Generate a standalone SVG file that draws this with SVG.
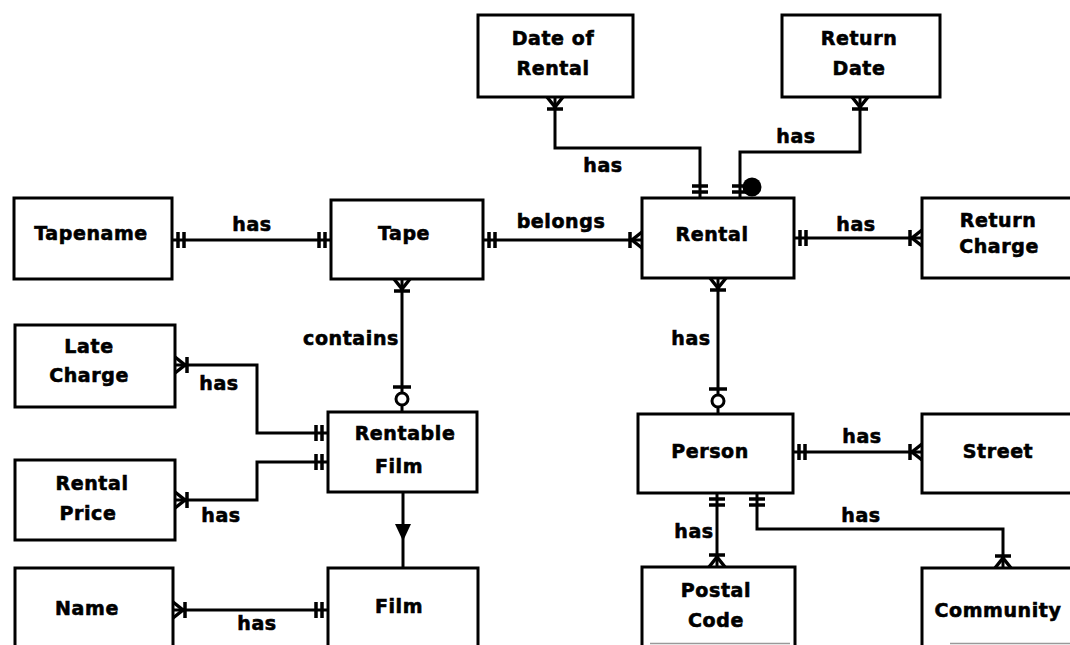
<svg xmlns="http://www.w3.org/2000/svg" xmlns:xlink="http://www.w3.org/1999/xlink" width="1070" height="645" viewBox="0 0 1070 645">
  <style>
    .box { fill: #fff; stroke: #000; stroke-width: 3; }
    .edge { fill: none; stroke: #000; stroke-width: 3; }
    .lbl { font-family: "DejaVu Sans", "Liberation Sans", sans-serif; font-weight: bold; font-size: 19px; letter-spacing: 0.6px; fill: #000; stroke: #000; stroke-width: 0.6px; text-anchor: middle; }
    .mk { fill: none; stroke: #000; stroke-width: 3.5; }
  </style>
  <defs>
    <!-- end symbols: entity edge at origin, the line leaves along +x -->
    <g id="one" class="mk"><path d="M6,-8 V8 M12,-8 V8"/></g>
    <g id="many" class="mk"><path d="M0,-8 L10,0 L0,8 M12,-8 V8"/></g>
    <g id="zeroone"><circle cx="13" cy="0" r="6" fill="#fff" stroke="#000" stroke-width="3"/><path class="mk" d="M25,-9 V9"/></g>
  </defs>
  <rect width="1070" height="645" fill="#fff"/>

  <g id="connectors">
    <path class="edge" d="M172,240 H331"/>
    <path class="edge" d="M483,240 H642"/>
    <path class="edge" d="M794,238 H922"/>
    <path class="edge" d="M555,97 V148 H700 V198"/>
    <path class="edge" d="M860,97 V152 H740 V198"/>
    <path class="edge" d="M402,279 V412"/>
    <path class="edge" d="M718,278 V414"/>
    <path class="edge" d="M175,365 H257 V433 H328"/>
    <path class="edge" d="M328,462 H257 V500 H175"/>
    <path class="edge" d="M403,492 V568"/>
    <path class="edge" d="M173,610 H328"/>
    <path class="edge" d="M793,452 H922"/>
    <path class="edge" d="M717,493 V567"/>
    <path class="edge" d="M757,493 V529 H1003 V568"/>

    <use xlink:href="#one" transform="translate(172,240)"/>
    <use xlink:href="#one" transform="translate(331,240) rotate(180)"/>
    <use xlink:href="#one" transform="translate(483,240)"/>
    <use xlink:href="#many" transform="translate(642,240) rotate(180)"/>
    <use xlink:href="#one" transform="translate(794,238)"/>
    <use xlink:href="#many" transform="translate(922,238) rotate(180)"/>
    <use xlink:href="#many" transform="translate(555,97) rotate(90)"/>
    <use xlink:href="#one" transform="translate(700,198) rotate(-90)"/>
    <use xlink:href="#many" transform="translate(860,97) rotate(90)"/>
    <use xlink:href="#one" transform="translate(740,198) rotate(-90)"/>
    <circle cx="752" cy="187" r="9.5" fill="#000"/>
    <use xlink:href="#many" transform="translate(402,279) rotate(90)"/>
    <use xlink:href="#zeroone" transform="translate(402,412) rotate(-90)"/>
    <use xlink:href="#many" transform="translate(718,278) rotate(90)"/>
    <use xlink:href="#zeroone" transform="translate(718,414) rotate(-90)"/>
    <use xlink:href="#many" transform="translate(175,365)"/>
    <use xlink:href="#one" transform="translate(328,433) rotate(180)"/>
    <use xlink:href="#one" transform="translate(328,462) rotate(180)"/>
    <use xlink:href="#many" transform="translate(175,500)"/>
    <path d="M395,524 H411 L403,541 Z" fill="#000"/>
    <use xlink:href="#many" transform="translate(173,610)"/>
    <use xlink:href="#one" transform="translate(328,610) rotate(180)"/>
    <use xlink:href="#one" transform="translate(793,452)"/>
    <use xlink:href="#many" transform="translate(922,452) rotate(180)"/>
    <use xlink:href="#one" transform="translate(717,493) rotate(90)"/>
    <use xlink:href="#many" transform="translate(717,567) rotate(-90)"/>
    <use xlink:href="#one" transform="translate(757,493) rotate(90)"/>
    <use xlink:href="#many" transform="translate(1003,568) rotate(-90)"/>

    <text class="lbl" x="252" y="231">has</text>
    <text class="lbl" x="561" y="228">belongs</text>
    <text class="lbl" x="856" y="231">has</text>
    <text class="lbl" x="603" y="172">has</text>
    <text class="lbl" x="796" y="143">has</text>
    <text class="lbl" x="351" y="345">contains</text>
    <text class="lbl" x="219" y="390">has</text>
    <text class="lbl" x="221" y="522">has</text>
    <text class="lbl" x="257" y="630">has</text>
    <text class="lbl" x="691" y="345">has</text>
    <text class="lbl" x="862" y="443">has</text>
    <text class="lbl" x="694" y="538">has</text>
    <text class="lbl" x="861" y="522">has</text>
  </g>

  <g id="date-of-rental">
    <rect class="box" x="478" y="15" width="155" height="82"/>
    <text class="lbl" x="553" y="45">Date of</text>
    <text class="lbl" x="553" y="75">Rental</text>
  </g>
  <g id="return-date">
    <rect class="box" x="782" y="15" width="158" height="82"/>
    <text class="lbl" x="859" y="45">Return</text>
    <text class="lbl" x="859" y="75">Date</text>
  </g>
  <g id="tapename">
    <rect class="box" x="14" y="198" width="158" height="81"/>
    <text class="lbl" x="91" y="240">Tapename</text>
  </g>
  <g id="tape">
    <rect class="box" x="331" y="200" width="152" height="79"/>
    <text class="lbl" x="404" y="240">Tape</text>
  </g>
  <g id="rental">
    <rect class="box" x="642" y="198" width="152" height="80"/>
    <text class="lbl" x="712" y="241">Rental</text>
  </g>
  <g id="return-charge">
    <rect class="box" x="922" y="198" width="160" height="80"/>
    <text class="lbl" x="998" y="227">Return</text>
    <text class="lbl" x="999" y="253">Charge</text>
  </g>
  <g id="late-charge">
    <rect class="box" x="15" y="325" width="160" height="82"/>
    <text class="lbl" x="89" y="353">Late</text>
    <text class="lbl" x="89" y="382">Charge</text>
  </g>
  <g id="rentable-film">
    <rect class="box" x="328" y="412" width="149" height="80"/>
    <text class="lbl" x="405" y="440">Rentable</text>
    <text class="lbl" x="399" y="473">Film</text>
  </g>
  <g id="rental-price">
    <rect class="box" x="15" y="460" width="160" height="80"/>
    <text class="lbl" x="92" y="490">Rental</text>
    <text class="lbl" x="88" y="520">Price</text>
  </g>
  <g id="name">
    <path class="box" d="M15,650 V568 H173 V650"/>
    <text class="lbl" x="87" y="615">Name</text>
  </g>
  <g id="film">
    <path class="box" d="M328,650 V568 H478 V650"/>
    <text class="lbl" x="399" y="613">Film</text>
  </g>
  <g id="person">
    <rect class="box" x="638" y="414" width="155" height="79"/>
    <text class="lbl" x="710" y="458">Person</text>
  </g>
  <g id="street">
    <rect class="box" x="922" y="414" width="160" height="79"/>
    <text class="lbl" x="998" y="458">Street</text>
  </g>
  <g id="postal-code">
    <path class="box" d="M642,650 V567 H795 V650"/>
    <path d="M650,643.5 H790" stroke="#999" stroke-width="1.5"/>
    <text class="lbl" x="716" y="597">Postal</text>
    <text class="lbl" x="716" y="627">Code</text>
  </g>
  <g id="community">
    <path class="box" d="M922,650 V568 H1082"/>
    <path d="M950,643.5 H1070" stroke="#999" stroke-width="1.5"/>
    <text class="lbl" x="998" y="617">Community</text>
  </g>
</svg>
